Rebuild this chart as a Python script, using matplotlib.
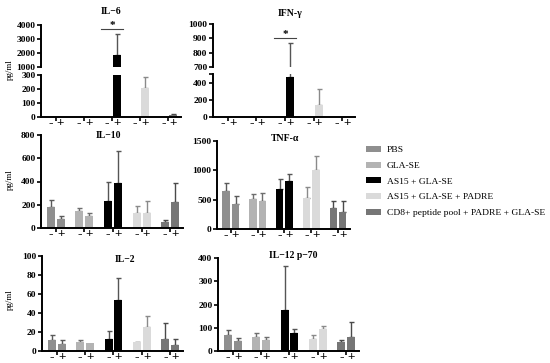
import numpy as np
import matplotlib
matplotlib.use("Agg")
import matplotlib.pyplot as plt
from matplotlib.patches import Patch

plt.rcParams['font.family'] = ['Liberation Serif', 'DejaVu Serif']

groups = ["PBS", "GLA-SE", "AS15 + GLA-SE", "AS15 + GLA-SE + PADRE",
          "CD8+ peptide pool + PADRE + GLA-SE"]
colors = ["#8f8f8f", "#b3b3b3", "#000000", "#dadada", "#767676"]
errcolors = ["#5a5a5a", "#6e6e6e", "#555555", "#8a8a8a", "#4a4a4a"]

# (minus, plus) means and upper error tops, per group
il6_mean = [(0, 0), (3, 3), (3, 1850), (3, 205), (3, 12)]
il6_top = [(0, 0), (3, 3), (3, 3330), (3, 288), (3, 22)]
ifn_mean = [(5, 2), (3, 2), (5, 460), (3, 142), (5, 3)]
ifn_top = [(5, 2), (3, 2), (5, 866), (3, 329), (5, 3)]
il10_mean = [(180, 75), (145, 100), (235, 390), (125, 125), (55, 220)]
il10_top = [(240, 100), (170, 130), (400, 660), (190, 235), (70, 385)]
tnf_mean = [(650, 430), (510, 480), (680, 810), (535, 1005), (355, 295)]
tnf_top = [(790, 570), (590, 610), (860, 930), (710, 1240), (477, 477)]
il2_mean = [(12, 7), (10, 8), (13, 54), (9, 25), (13, 6)]
il2_top = [(17, 12), (12, 8), (21, 77), (10, 37), (29, 13)]
il12_mean = [(69, 43), (62, 47), (176, 76), (52, 95), (37, 62)]
il12_top = [(90, 54), (79, 62), (366, 93), (67, 109), (47, 123)]

W, H = 550.0, 363.0
fig = plt.figure(figsize=(5.5, 3.63), dpi=100)

def px(l, t, r, b):
    return [l / W, 1 - b / H, (r - l) / W, (b - t) / H]

OFF = 0.175
BW = 0.28

def style(ax, bottom=True):
    for s in ['top', 'right']:
        ax.spines[s].set_visible(False)
    ax.spines['left'].set_linewidth(1.4)
    ax.spines['bottom'].set_linewidth(1.4)
    ax.spines['bottom'].set_visible(bottom)
    ax.tick_params(axis='y', length=3, width=1.2, labelsize=6.8, pad=1)
    for lab in ax.get_yticklabels():
        lab.set_fontweight('bold')
    ax.set_xlim(-0.52, 4.45)

def draw_bars(ax, mean, top):
    for i in range(5):
        for j, sgn in enumerate((-1, 1)):
            x = i + sgn * OFF
            m = mean[i][j]
            t = top[i][j]
            ax.bar(x, m, width=BW, color=colors[i], zorder=2)
            if t > m:
                ax.errorbar(x, m, yerr=[[0], [t - m]], fmt='none',
                            ecolor=errcolors[i], elinewidth=1, capsize=1.8,
                            capthick=1, zorder=1)

def xaxis(ax):
    pos = []
    labs = []
    for i in range(5):
        pos += [i - OFF, i + OFF]
        labs += ['-', '+']
    ax.set_xticks(pos)
    ax.set_xticklabels(labs, fontsize=9.5, fontweight='bold')
    ax.tick_params(axis='x', length=0, pad=0)
    ax.set_xticks(np.arange(5), minor=True)
    ax.tick_params(axis='x', which='minor', length=3, width=1.2)

def simple(rect, mean, top, ylim, yticks, title, tx, ty):
    ax = fig.add_axes(px(*rect))
    draw_bars(ax, mean, top)
    ax.set_ylim(*ylim)
    ax.set_yticks(yticks)
    style(ax)
    xaxis(ax)
    fig.text(tx / W, 1 - ty / H, title, fontsize=7, fontweight='bold',
             ha='center', va='center')
    return ax

def broken(left, right, up, low, mean, top, ylim_up, ticks_up, ylim_lo, ticks_lo):
    axu = fig.add_axes(px(left, up[0], right, up[1]))
    axl = fig.add_axes(px(left, low[0], right, low[1]))
    for ax in (axu, axl):
        draw_bars(ax, mean, top)
    axu.set_ylim(*ylim_up)
    axu.set_yticks(ticks_up)
    axl.set_ylim(*ylim_lo)
    axl.set_yticks(ticks_lo)
    style(axu, bottom=False)
    style(axl)
    axu.set_xticks([])
    xaxis(axl)
    return axu, axl

# IL-6
u6, l6 = broken(41, 181, (25, 67), (75, 117), il6_mean, il6_top,
                (1000, 4000), [1000, 2000, 3000, 4000], (0, 300), [0, 100, 200, 300])
fig.text(111 / W, 1 - 12 / H, "IL\u22126", fontsize=7, fontweight='bold',
         ha='center', va='center')
u6.plot([2 - OFF - 0.2, 2 + OFF + 0.2], [3720, 3720], color='#444444', lw=0.8,
        clip_on=False)
u6.text(2, 3650, "*", ha='center', va='bottom', fontsize=8, fontweight='bold')

# IFN-gamma
ui, li = broken(213, 355, (24, 67), (74, 117), ifn_mean, ifn_top,
                (700, 1000), [700, 800, 900, 1000], (0, 500), [0, 200, 400])
li.set_yticks([500], minor=True)
li.tick_params(axis='y', which='minor', length=3, width=1.2)
fig.text(290 / W, 1 - 13 / H, "IFN-\u03b3", fontsize=7, fontweight='bold',
         ha='center', va='center')
ui.plot([2 - OFF - 0.2, 2 + OFF + 0.2], [902, 902], color='#444444', lw=0.8,
        clip_on=False)
ui.text(2, 895, "*", ha='center', va='bottom', fontsize=8, fontweight='bold')

# middle row
simple((41, 135, 183, 228), il10_mean, il10_top, (0, 800), [0, 200, 400, 600, 800],
       "IL\u221210", 108, 135)
simple((217, 141, 350, 229), tnf_mean, tnf_top, (0, 1500), [0, 500, 1000, 1500],
       "TNF-\u03b1", 285, 138)

# bottom row
simple((42, 256, 183, 351), il2_mean, il2_top, (0, 100), [0, 20, 40, 60, 80, 100],
       "IL\u22122", 125, 259)
simple((218, 258, 359, 351), il12_mean, il12_top, (0, 400), [0, 100, 200, 300, 400],
       "IL\u221212 p\u221270", 293, 255)

for yy in (70, 180, 300):
    fig.text(10 / W, 1 - yy / H, "pg/ml", rotation=90, fontsize=6.5,
             ha='center', va='center')

handles = [Patch(facecolor=c, edgecolor='none') for c in colors]
fig.legend(handles, groups, loc='upper left', bbox_to_anchor=(362 / W, 1 - 142 / H),
           frameon=False, fontsize=6.8, handlelength=1.6, handleheight=0.62,
           labelspacing=0.78, handletextpad=0.65, borderaxespad=0)

fig.savefig("out.png", dpi=100)
